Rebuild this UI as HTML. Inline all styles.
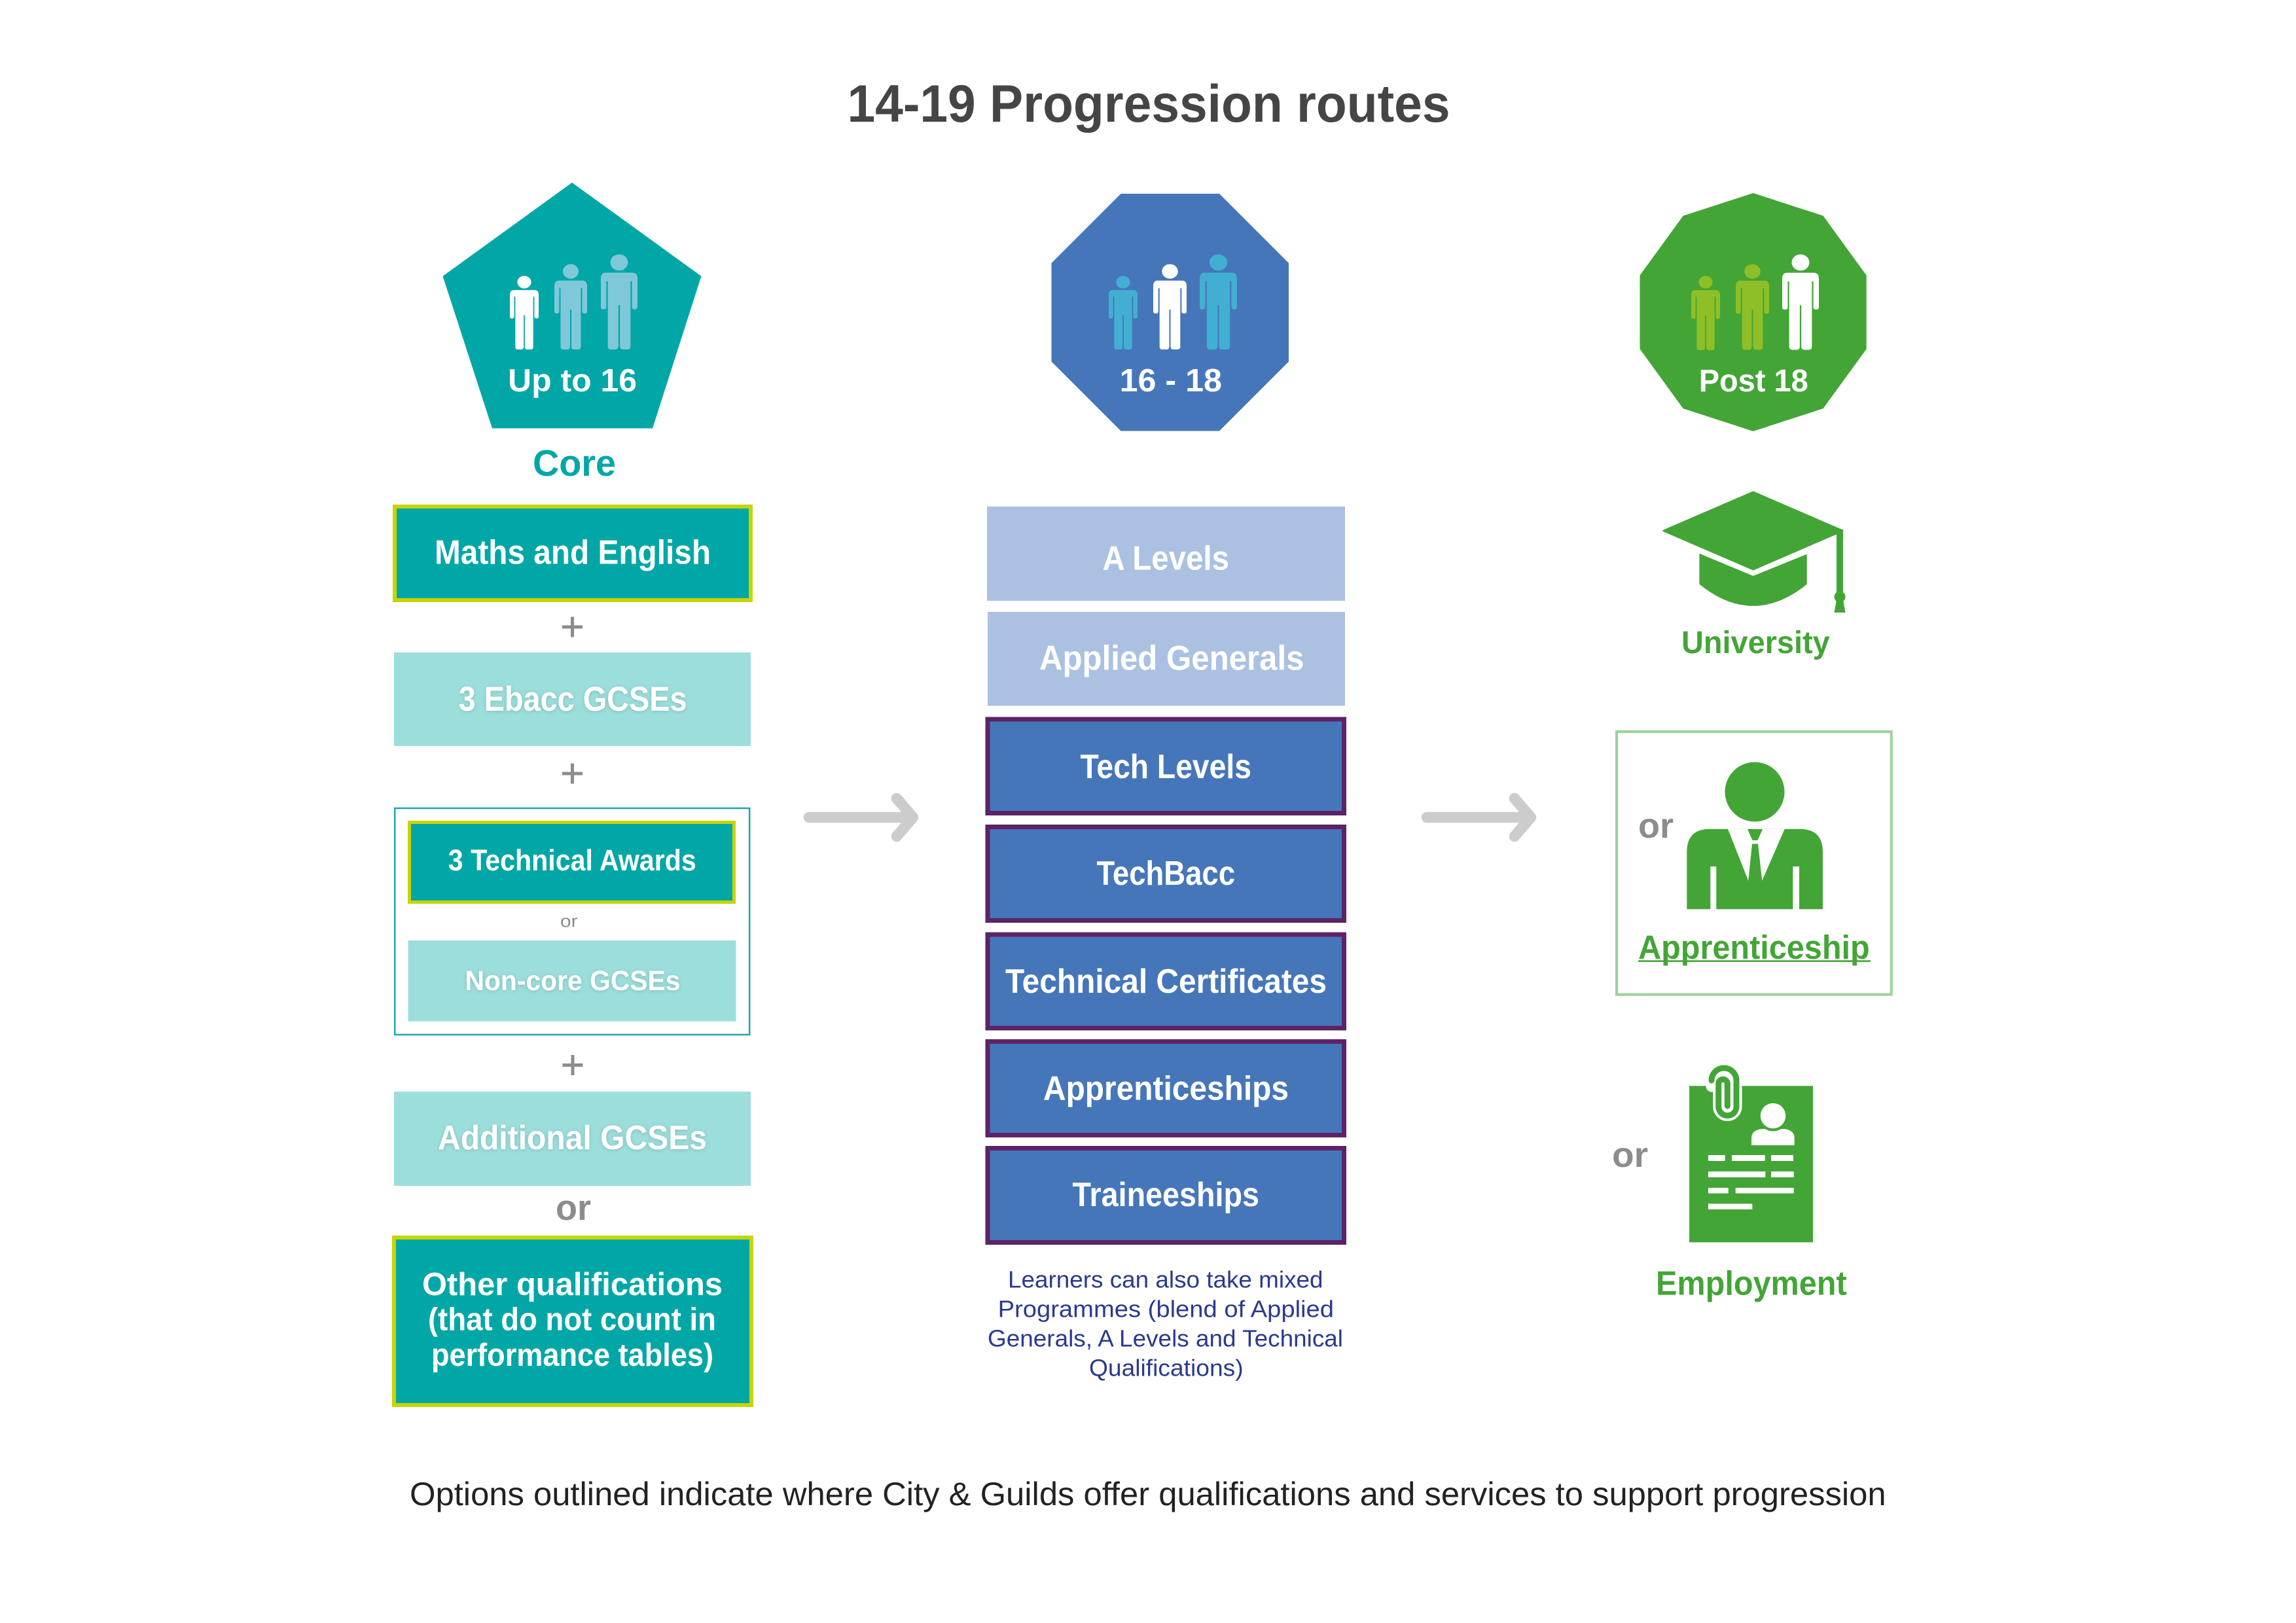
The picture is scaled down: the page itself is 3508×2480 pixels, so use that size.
<!DOCTYPE html>
<html>
<head>
<meta charset="utf-8">
<style>
html,body{margin:0;padding:0;background:#ffffff;}
svg{display:block;}
text{font-family:"Liberation Sans",Arial,sans-serif;}
</style>
</head>
<body>
<svg width="3508" height="2480" viewBox="0 0 3508 2480" xmlns="http://www.w3.org/2000/svg">
<defs>
  <symbol id="fig" viewBox="0 0 100 224" preserveAspectRatio="none">
    <ellipse cx="50" cy="20" rx="24" ry="19"/>
    <path d="M0 58 Q0 44 14 44 H86 Q100 44 100 58 V124 Q100 130 94 130 H91 Q85 130 85 124 V64 H81 V216 Q81 224 73 224 H60 Q52 224 52 216 V120 H48 V216 Q48 224 40 224 H27 Q19 224 19 216 V64 H15 V124 Q15 130 9 130 H6 Q0 130 0 124 Z"/>
  </symbol>
  <filter id="sh" x="-10%" y="-30%" width="120%" height="160%">
    <feDropShadow dx="0" dy="1" stdDeviation="3" flood-color="#5f8f8d" flood-opacity="0.45"/>
  </filter>
</defs>

<rect x="0" y="0" width="3508" height="2480" fill="#ffffff"/>

<!-- Title -->
<text x="1294.5" y="186" font-size="81" font-weight="bold" fill="#454545" textLength="921" lengthAdjust="spacingAndGlyphs">14-19 Progression routes</text>

<!-- ============ LEFT COLUMN ============ -->
<polygon points="874,279 1071.5,422 997,654.5 752,654.5 676.5,422" fill="#00a7a6"/>
<use href="#fig" x="779" y="421" width="44" height="113" fill="#ffffff"/>
<use href="#fig" x="847" y="403" width="50" height="131" fill="#7ec8da"/>
<use href="#fig" x="918" y="388" width="56" height="146" fill="#7ec8da"/>
<text x="776" y="598" font-size="49" font-weight="bold" fill="#ffffff" textLength="197" lengthAdjust="spacingAndGlyphs">Up to 16</text>

<text x="814" y="727" font-size="57" font-weight="bold" fill="#00a7a6" textLength="127" lengthAdjust="spacingAndGlyphs">Core</text>

<!-- Maths and English -->
<rect x="603" y="774" width="544" height="143" fill="#00a7a6" stroke="#c8d400" stroke-width="6"/>
<text x="664" y="861.6" font-size="52" font-weight="bold" fill="#ffffff" textLength="422" lengthAdjust="spacingAndGlyphs">Maths and English</text>

<!-- plus signs -->
<g stroke="#8c8c8c" stroke-width="5">
  <path d="M859 958 H890 M874.5 942.5 V973.5"/>
  <path d="M859 1182 H890 M874.5 1166.5 V1197.5"/>
  <path d="M859.5 1627.5 H890.5 M875 1612 V1643"/>
</g>

<!-- 3 Ebacc GCSEs -->
<rect x="602" y="997" width="545" height="143" fill="#9cdedb"/>
<text x="700.6" y="1086" font-size="53" font-weight="bold" fill="#ffffff" filter="url(#sh)" textLength="349" lengthAdjust="spacingAndGlyphs">3 Ebacc GCSEs</text>

<!-- group box -->
<rect x="603.2" y="1235" width="542" height="346" fill="none" stroke="#1aa8a8" stroke-width="2.5"/>
<rect x="625.5" y="1256.5" width="496" height="122" fill="#00a7a6" stroke="#c8d400" stroke-width="5"/>
<text x="684.8" y="1329.8" font-size="45" font-weight="bold" fill="#ffffff" textLength="379" lengthAdjust="spacingAndGlyphs">3 Technical Awards</text>
<text x="856" y="1416.4" font-size="27" fill="#8c8c8c" textLength="26.5" lengthAdjust="spacingAndGlyphs">or</text>
<rect x="623.5" y="1437" width="501" height="123.6" fill="#9cdedb"/>
<text x="710.5" y="1512.8" font-size="43" font-weight="bold" fill="#ffffff" filter="url(#sh)" textLength="329" lengthAdjust="spacingAndGlyphs">Non-core GCSEs</text>

<!-- Additional GCSEs -->
<rect x="602" y="1668" width="545" height="144" fill="#9cdedb"/>
<text x="669" y="1756" font-size="52" font-weight="bold" fill="#ffffff" filter="url(#sh)" textLength="411" lengthAdjust="spacingAndGlyphs">Additional GCSEs</text>

<text x="849" y="1864" font-size="55" font-weight="bold" fill="#8c8c8c" textLength="54" lengthAdjust="spacingAndGlyphs">or</text>

<!-- Other qualifications -->
<rect x="602" y="1891" width="546" height="256" fill="#00a7a6" stroke="#c8d400" stroke-width="6"/>
<text x="645" y="1979" font-size="49" font-weight="bold" fill="#ffffff" textLength="459" lengthAdjust="spacingAndGlyphs">Other qualifications</text>
<text x="654" y="2032.7" font-size="49" font-weight="bold" fill="#ffffff" textLength="440" lengthAdjust="spacingAndGlyphs">(that do not count in</text>
<text x="659" y="2087" font-size="49" font-weight="bold" fill="#ffffff" textLength="431" lengthAdjust="spacingAndGlyphs">performance tables)</text>

<!-- ============ ARROWS ============ -->
<g stroke="#cccccc" stroke-width="16.5" stroke-linecap="round" stroke-linejoin="round" fill="none">
  <path d="M1236 1249 H1392 M1370 1220 L1395 1249 L1370 1278"/>
  <path d="M2180 1249 H2336 M2314 1220 L2339 1249 L2314 1278"/>
</g>

<!-- ============ MIDDLE COLUMN ============ -->
<polygon points="1712.5,296 1863,296 1969,402 1969,552.5 1863,658.5 1712.5,658.5 1606.5,552.5 1606.5,402" fill="#4676ba"/>
<use href="#fig" x="1694" y="421" width="44" height="113" fill="#41afd1"/>
<use href="#fig" x="1762" y="403" width="51" height="131" fill="#ffffff"/>
<use href="#fig" x="1833" y="388" width="57" height="146" fill="#41afd1"/>
<text x="1710.6" y="598" font-size="49" font-weight="bold" fill="#ffffff" textLength="156.4" lengthAdjust="spacingAndGlyphs">16 - 18</text>

<rect x="1508" y="774" width="547" height="144" fill="#abc1e1"/>
<text x="1684.5" y="870.5" font-size="52" font-weight="bold" fill="#ffffff" textLength="193.5" lengthAdjust="spacingAndGlyphs">A Levels</text>

<rect x="1509" y="935" width="546" height="143.5" fill="#abc1e1"/>
<text x="1588" y="1023.6" font-size="53" font-weight="bold" fill="#ffffff" textLength="404.5" lengthAdjust="spacingAndGlyphs">Applied Generals</text>

<g fill="#4676ba" stroke="#5d2366" stroke-width="7">
  <rect x="1509" y="1099" width="544.5" height="143.5"/>
  <rect x="1509" y="1263.5" width="544.5" height="143"/>
  <rect x="1509" y="1428" width="544.5" height="143"/>
  <rect x="1509" y="1591.5" width="544.5" height="143"/>
  <rect x="1509" y="1754.5" width="544.5" height="144"/>
</g>
<g font-size="52" font-weight="bold" fill="#ffffff">
  <text x="1650.5" y="1189" textLength="261.5" lengthAdjust="spacingAndGlyphs">Tech Levels</text>
  <text x="1675.5" y="1352" textLength="211.5" lengthAdjust="spacingAndGlyphs">TechBacc</text>
  <text x="1536" y="1517" textLength="491" lengthAdjust="spacingAndGlyphs">Technical Certificates</text>
  <text x="1594" y="1680.5" textLength="375" lengthAdjust="spacingAndGlyphs">Apprenticeships</text>
  <text x="1638.5" y="1843" textLength="285.5" lengthAdjust="spacingAndGlyphs">Traineeships</text>
</g>

<g font-size="36" fill="#2b3990">
  <text x="1540" y="1967.6" textLength="481.5" lengthAdjust="spacingAndGlyphs">Learners can also take mixed</text>
  <text x="1524.6" y="2012.7" textLength="513.4" lengthAdjust="spacingAndGlyphs">Programmes (blend of Applied</text>
  <text x="1509" y="2057.5" textLength="543" lengthAdjust="spacingAndGlyphs">Generals, A Levels and Technical</text>
  <text x="1664" y="2102.7" textLength="235.6" lengthAdjust="spacingAndGlyphs">Qualifications)</text>
</g>

<!-- ============ RIGHT COLUMN ============ -->
<polygon points="2678.6,295 2785.6,329.8 2851.7,420.8 2851.7,533.2 2785.6,624.2 2678.6,659 2571.6,624.2 2505.5,533.2 2505.5,420.8 2571.6,329.8" fill="#43a536"/>
<use href="#fig" x="2584" y="421" width="44" height="114" fill="#8ebf26"/>
<use href="#fig" x="2652" y="403" width="51" height="131.5" fill="#8ebf26"/>
<use href="#fig" x="2723" y="388" width="56" height="146.5" fill="#ffffff"/>
<text x="2595.7" y="597.8" font-size="48" font-weight="bold" fill="#ffffff" textLength="167" lengthAdjust="spacingAndGlyphs">Post 18</text>

<!-- Graduation cap -->
<g fill="#43a536">
  <polygon points="2678.6,752 2542,811 2678.6,870 2815,811" stroke="#43a536" stroke-width="3" stroke-linejoin="round"/>
  <path d="M2596.4 845.7 L2678.6 880 L2760.7 846.7 L2760.7 892.7 Q2678.6 959 2596.4 892.7 Z"/>
  <rect x="2806" y="809" width="10" height="100"/>
  <circle cx="2811" cy="912" r="8.5"/>
  <polygon points="2806,916 2816,916 2819.5,936 2802.5,936"/>
</g>
<text x="2569" y="998" font-size="48" font-weight="bold" fill="#43a536" textLength="226.7" lengthAdjust="spacingAndGlyphs">University</text>

<!-- Apprenticeship box -->
<rect x="2470" y="1118" width="419.7" height="401.7" fill="none" stroke="#9ad497" stroke-width="4"/>
<text x="2503" y="1280" font-size="54" font-weight="bold" fill="#8c8c8c" textLength="54" lengthAdjust="spacingAndGlyphs">or</text>
<g fill="#43a536">
  <circle cx="2681" cy="1210" r="45.5"/>
  <path d="M2577.3 1389.3 V1302 Q2577.3 1266.7 2612 1266.7 H2750 Q2785 1266.7 2785 1302 V1389.3 H2749 V1324 H2739.3 V1389.3 H2622.3 V1324 H2613.3 V1389.3 Z"/>
</g>
<polygon points="2640,1266.7 2726.7,1266.7 2691.7,1347 2671.7,1347" fill="#ffffff"/>
<g fill="#43a536">
  <polygon points="2670,1267 2693,1267 2685.5,1284 2677.5,1284"/>
  <polygon points="2677,1289.5 2686,1289.5 2692.5,1348 2671,1348"/>
</g>
<text x="2503" y="1465" font-size="51" font-weight="bold" fill="#43a536" textLength="353.7" lengthAdjust="spacingAndGlyphs">Apprenticeship</text>
<rect x="2503" y="1467.3" width="355" height="2.6" fill="#43a536"/>

<!-- Employment -->
<text x="2463" y="1783" font-size="54" font-weight="bold" fill="#8c8c8c" textLength="55" lengthAdjust="spacingAndGlyphs">or</text>
<rect x="2581" y="1659.3" width="189" height="239" fill="#43a536"/>
<!-- paperclip -->
<path d="M2615 1660 V1651 A19 19 0 0 1 2653 1651 V1691 A13.65 13.65 0 0 1 2625.7 1691 V1656 A6.8 6.8 0 0 1 2639.3 1656 V1690" fill="none" stroke="#ffffff" stroke-width="17" stroke-linecap="round" stroke-linejoin="round"/>
<path d="M2615 1651 A19 19 0 0 1 2653 1651 V1691 A13.65 13.65 0 0 1 2625.7 1691 V1656 A6.8 6.8 0 0 1 2639.3 1656 V1690" fill="none" stroke="#43a536" stroke-width="9" stroke-linecap="round" stroke-linejoin="round"/>
<!-- doc person -->
<path d="M2676 1750 V1739 Q2676 1727 2692 1725 H2726 Q2741.7 1727 2741.7 1739 V1750 Z" fill="#ffffff"/>
<circle cx="2709" cy="1705" r="23.5" fill="#43a536"/>
<circle cx="2709" cy="1705" r="19.3" fill="#ffffff"/>
<g fill="#ffffff">
  <rect x="2610" y="1765" width="25.7" height="9"/>
  <rect x="2646" y="1765" width="50.7" height="9"/>
  <rect x="2706" y="1765" width="34" height="9"/>
  <rect x="2610" y="1790" width="87.3" height="9"/>
  <rect x="2706" y="1790" width="34.7" height="9"/>
  <rect x="2610" y="1815" width="30.7" height="8.5"/>
  <rect x="2651.7" y="1815" width="89" height="8.5"/>
  <rect x="2610" y="1839.3" width="67.3" height="8.7"/>
</g>
<text x="2530" y="1978.3" font-size="52" font-weight="bold" fill="#43a536" textLength="291.7" lengthAdjust="spacingAndGlyphs">Employment</text>

<!-- Footer -->
<text x="626" y="2300" font-size="50" fill="#222222" textLength="2255.6" lengthAdjust="spacingAndGlyphs">Options outlined indicate where City &amp; Guilds offer qualifications and services to support progression</text>
</svg>
</body>
</html>
